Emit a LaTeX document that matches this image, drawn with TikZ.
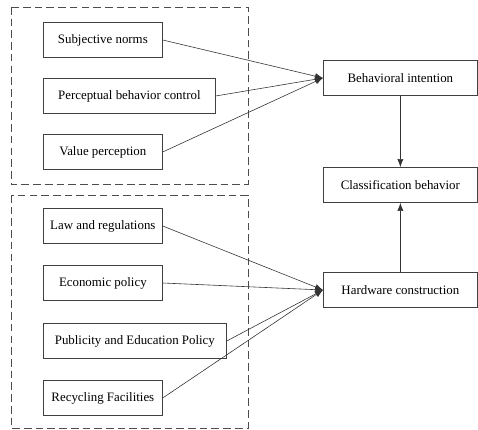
\documentclass[tikz,border=0pt]{standalone}
\usepackage{fontspec}
\setmainfont{Liberation Serif}
\usetikzlibrary{arrows.meta}

\tikzset{
  factor/.style={draw=black!75, line width=0.6pt, anchor=west, minimum height=1.05cm,
    font=\fontsize{11}{13}\selectfont, inner sep=2pt},
  outcome/.style={factor, minimum width=4.62cm},
  group/.style={draw=black!70, line width=0.6pt, dash pattern=on 6.5pt off 3.5pt},
  arr/.style={draw=black!80, line width=0.5pt, -{Latex[length=2.4mm,width=1.8mm]}}
}

\begin{document}
\begin{tikzpicture}[x=0.03cm,y=-0.03cm]
  \useasboundingbox (0,0) rectangle (478,430);

  % Gruppen (gestrichelt)
  \draw[group] (11,7) rectangle (248,184);
  \draw[group] (11,195) rectangle (248,428);

  % Einflussfaktoren oben
  \node[factor, minimum width=3.57cm] (subj) at (43,40) {Subjective norms};
  \node[factor, minimum width=5.16cm] (pbc) at (43,96) {Perceptual behavior control};
  \node[factor, minimum width=3.57cm] (value) at (43,152) {Value perception};

  % Einflussfaktoren unten
  \node[factor, minimum width=3.57cm] (law) at (43,226) {Law and regulations};
  \node[factor, minimum width=3.57cm] (econ) at (43,283) {Economic policy};
  \node[factor, minimum width=5.49cm] (pub) at (43,341) {Publicity and Education Policy};
  \node[factor, minimum width=3.57cm] (recyc) at (43,398) {Recycling Facilities};

  % Ergebnisse rechts
  \node[outcome] (intent) at (323,78) {Behavioral intention};
  \node[outcome] (classif) at (323,185) {Classification behavior};
  \node[outcome] (hard) at (323,290) {Hardware construction};

  % Pfeile zur Absicht
  \draw[arr] (subj.east) -- (intent.west);
  \draw[arr] (pbc.east) -- (intent.west);
  \draw[arr] (value.east) -- (intent.west);

  % Pfeile zur Hardware
  \draw[arr] (law.east) -- (hard.west);
  \draw[arr] (econ.east) -- (hard.west);
  \draw[arr] (pub.east) -- (hard.west);
  \draw[arr] (recyc.east) -- (hard.west);

  % Pfeile zum Verhalten
  \draw[arr] (intent.south) -- (classif.north);
  \draw[arr] (hard.north) -- (classif.south);
\end{tikzpicture}
\end{document}
